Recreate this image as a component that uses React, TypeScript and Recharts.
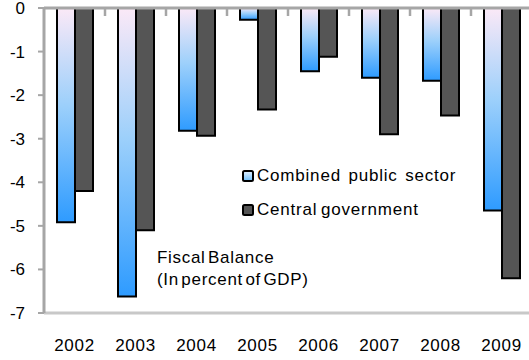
import React from 'react';
import { BarChart, Bar, XAxis, YAxis, ReferenceLine } from 'recharts';

const years = ['2002', '2003', '2004', '2005', '2006', '2007', '2008', '2009'];
const combinedPublic = [-4.92, -6.62, -2.82, -0.27, -1.45, -1.6, -1.67, -4.65];
const centralGov = [-4.2, -5.1, -2.93, -2.33, -1.12, -2.9, -2.47, -6.2];
const yTicks = [0, -1, -2, -3, -4, -5, -6, -7];

const chartData = years.map((year, i) => ({
  year,
  combined: combinedPublic[i],
  central: centralGov[i],
}));

const FONT = '"Liberation Sans", Arial, sans-serif';
const BAND_HALF = 30.5;

// short gray mark hanging from the zero line at the right edge of each category
const BoundaryTick = (props: any) => {
  const { x1, y1, y2 } = props;
  if (x1 == null || y1 == null) return null;
  const top = Math.min(y1, y2);
  return <line x1={x1 + BAND_HALF} x2={x1 + BAND_HALF} y1={top} y2={top + 8} stroke="#a6a6a6" strokeWidth={2.5} />;
};

const LegendBox = () => (
  <div style={{ fontFamily: FONT, fontSize: 17, color: '#000', lineHeight: '20px', letterSpacing: 0.8 }}>
    <div style={{ display: 'flex', alignItems: 'center', marginBottom: 14 }}>
      <svg width={12} height={12} style={{ marginRight: 3 }}>
        <rect x={1} y={1} width={10} height={10} rx={1.5} fill="url(#legendBlue)" stroke="#000" strokeWidth={2} />
      </svg>
      <span style={{ wordSpacing: 2 }}>Combined public sector</span>
    </div>
    <div style={{ display: 'flex', alignItems: 'center' }}>
      <svg width={12} height={12} style={{ marginRight: 3 }}>
        <rect x={1} y={1} width={10} height={10} rx={1.5} fill="#555555" stroke="#000" strokeWidth={2} />
      </svg>
      <span style={{ wordSpacing: -2 }}>Central government</span>
    </div>
  </div>
);

export default function App() {
  return (
    <div style={{ position: 'absolute', left: 0, top: 0, width: 529, height: 360, overflow: 'hidden', background: '#fff' }}>
      <svg width={0} height={0} style={{ position: 'absolute' }}>
        <defs>
          <linearGradient id="legendBlue" x1="0" y1="0" x2="0" y2="1">
            <stop offset="0%" stopColor="#e6f2ff" />
            <stop offset="100%" stopColor="#6cc0ff" />
          </linearGradient>
        </defs>
      </svg>
      <BarChart
        width={545}
        height={360}
        data={chartData}
        margin={{ top: 8, right: 13, left: 0, bottom: 7 }}
        barGap={0}
        barSize={18}
      >
        <defs>
          <linearGradient id="blueFade" x1="0" y1="0" x2="0" y2="1">
            <stop offset="0%" stopColor="#fbe9f7" />
            <stop offset="45%" stopColor="#9dd0fb" />
            <stop offset="100%" stopColor="#2e9bff" />
          </linearGradient>
        </defs>
        <XAxis
          dataKey="year"
          axisLine={{ stroke: '#c8c8c8', strokeWidth: 3 }}
          tickLine={false}
          tickSize={0}
          tickMargin={26}
          height={40}
          tick={{ fill: '#000', fontSize: 17, fontFamily: FONT, letterSpacing: 0.7 }}
        />
        <YAxis
          width={44}
          domain={[-7, 0]}
          ticks={yTicks}
          interval={0}
          axisLine={{ stroke: '#a6a6a6', strokeWidth: 3 }}
          tickLine={{ stroke: '#a6a6a6', strokeWidth: 2 }}
          tickSize={6}
          tickMargin={13}
          tick={{ fill: '#000', fontSize: 17, fontFamily: FONT }}
        />
        {years.map((yr) => (
          <ReferenceLine key={yr} x={yr} stroke="#a6a6a6" shape={<BoundaryTick />} />
        ))}
        <ReferenceLine y={0} stroke="#a6a6a6" strokeWidth={3} />
        <Bar dataKey="combined" name="Combined public sector" fill="url(#blueFade)" stroke="#000" strokeWidth={2} isAnimationActive={false} />
        <Bar dataKey="central" name="Central government" fill="#555555" stroke="#000" strokeWidth={2} isAnimationActive={false} />
      </BarChart>
      <div style={{ position: 'absolute', left: 242, top: 166 }}>
        <LegendBox />
      </div>
      <div
        style={{
          position: 'absolute',
          left: 157,
          top: 247,
          fontFamily: FONT,
          fontSize: 17,
          lineHeight: '22px',
          color: '#000',
          letterSpacing: 0.7,
          wordSpacing: -3,
        }}
      >
        Fiscal Balance
        <br />
        (In percent of GDP)
      </div>
    </div>
  );
}
